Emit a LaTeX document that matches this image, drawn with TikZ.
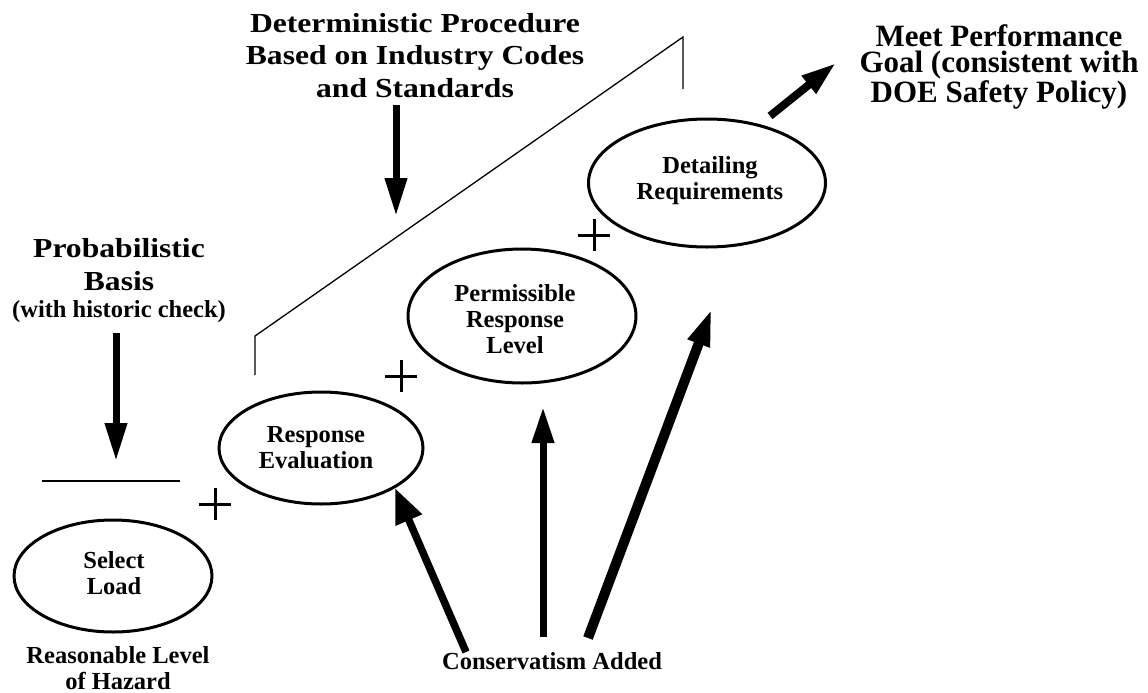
\documentclass[tikz,border=0pt]{standalone}
\usepackage{fontspec}
\setmainfont{Liberation Serif}
\newfontfamily\widefont{Liberation Serif}[FakeStretch=1.15]
\usetikzlibrary{arrows.meta,shapes.geometric}
\begin{document}
\begin{tikzpicture}[x=1pt,y=-1pt,
  oval/.style={ellipse,draw,line width=3pt,inner sep=0pt},
  lbl/.style={font=\fontsize{24.5}{26}\selectfont\bfseries,align=center,inner sep=0pt,anchor=base},
  bigwide/.style={font=\widefont\fontsize{27.5}{32.5}\selectfont\bfseries,align=center,inner sep=0pt,anchor=base},
  bignarrow/.style={font=\fontsize{31}{26}\selectfont\bfseries,align=center,inner sep=0pt,anchor=base},
  fat/.style={line width=7pt,-{Triangle[length=38pt,width=21pt]}},
  thin/.style={line width=1.3pt},
  pics/plussign/.style={code={\draw[line width=3pt] (-16,0)--(16,0) (0,-16)--(0,16);}}]
\useasboundingbox (0,0) rectangle (1148,693);

% ellipses
\node[oval,minimum width=198pt,minimum height=112pt] (sel) at (113,576) {};
\node[oval,minimum width=204pt,minimum height=112pt] (resp) at (321,448) {};
\node[oval,minimum width=228pt,minimum height=134pt] (perm) at (522,316) {};
\node[oval,minimum width=237pt,minimum height=128pt] (deta) at (707,183) {};

% ellipse texts (anchor = baseline of the last line)
\node[lbl] (selT) at (114,594) {Select\\Load};
\node[lbl] (respT) at (316,468) {Response\\Evaluation};
\node[lbl] (permT) at (515,353) {Permissible\\Response\\Level};
\node[lbl] (detaT) at (710,199) {Detailing\\Requirements};

% other texts
\node[bigwide] (prob) at (119,290) {Probabilistic\\Basis};
\node[lbl] (probH) at (119,317) {(with historic check)};
\node[bigwide] (determ) at (415,97) {Deterministic Procedure\\Based on Industry Codes\\and Standards};
\node[bignarrow] (goal) at (999,102) {Meet Performance\\Goal (consistent with\\DOE Safety Policy)};
\node[lbl] (hazard) at (118,689) {Reasonable Level\\of Hazard};
\node[lbl] (cons) at (552,669) {Conservatism Added};

% plus signs
\pic at (215,504) {plussign};
\pic at (401,376) {plussign};
\pic at (594,235) {plussign};

% lines
\coordinate (hlA) at (42,481);
\coordinate (hlB) at (180,481);
\draw[line width=1.5pt] (hlA) -- (hlB);
\coordinate (brA) at (255,375);
\coordinate (brB) at (255,336);
\coordinate (brC) at (683,37);
\coordinate (brD) at (683,89);
\draw[thin] (brA) -- (brB) -- (brC) -- (brD);

% arrows
\coordinate (probS) at (116,333);
\coordinate (probE) at (116,461);
\draw[fat] (probS) -- (probE);
\coordinate (detS) at (396,105);
\coordinate (detE) at (396,216);
\draw[fat] (detS) -- (detE);
\coordinate (goalS) at (770,116);
\coordinate (goalE) at (836,63);
\draw[line width=8pt,-{Triangle[length=35pt,width=21pt]}] (goalS) -- (goalE);
\coordinate (c1S) at (466,652);
\coordinate (c1E) at (395,488);
\draw[line width=7.5pt,-{Triangle[length=35pt,width=27pt]}] (c1S) -- (c1E);
\coordinate (c2S) at (543,637);
\coordinate (c2E) at (543,407);
\draw[line width=7pt,-{Triangle[length=36pt,width=21pt]}] (c2S) -- (c2E);
\coordinate (c3S) at (588,638);
\coordinate (c3E) at (712,308);
\draw[line width=10pt,-{Triangle[length=38pt,width=21pt]}] (c3S) -- (c3E);
\end{tikzpicture}
\end{document}
